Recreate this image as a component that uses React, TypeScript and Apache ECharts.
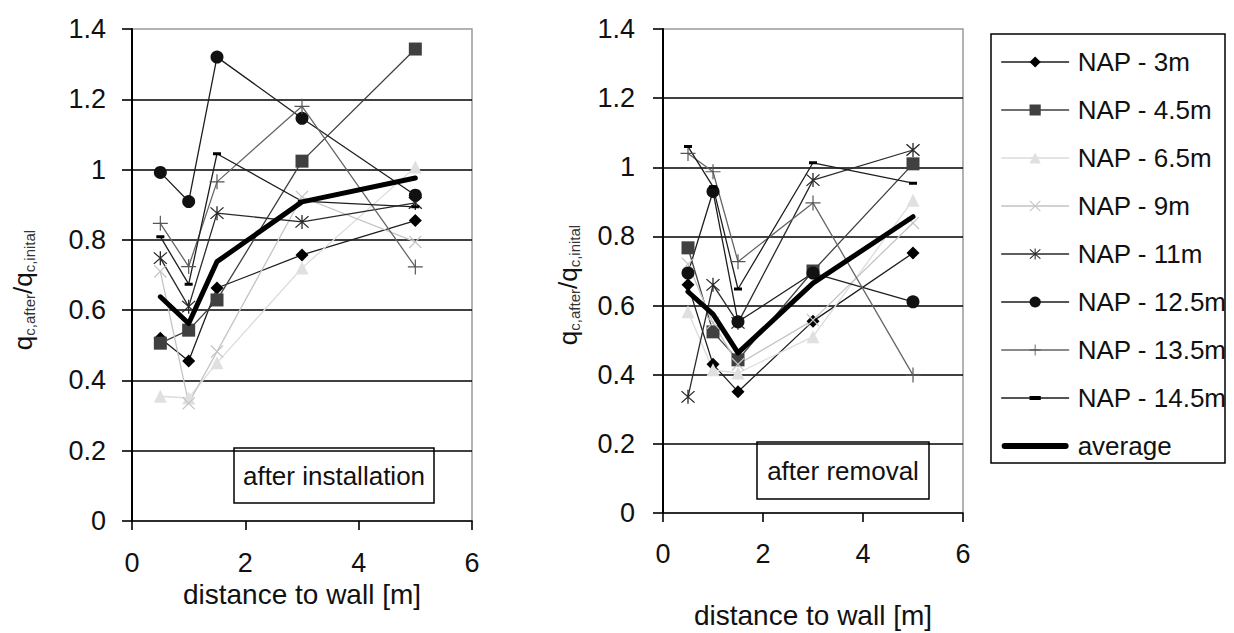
import React, { useEffect, useRef } from "react";
import * as echarts from "echarts";

// distance to wall [m]
const distances = [0.5, 1, 1.5, 3, 5];

const seriesNames = [
  "NAP - 3m",
  "NAP - 4.5m",
  "NAP - 6.5m",
  "NAP - 9m",
  "NAP - 11m",
  "NAP - 12.5m",
  "NAP - 13.5m",
  "NAP - 14.5m",
  "average",
];

// q_c,after / q_c,initial after installation
const inst3 = [0.52, 0.455, 0.663, 0.757, 0.855];
const inst45 = [0.506, 0.543, 0.629, 1.024, 1.343];
const inst65 = [0.355, 0.35, 0.45, 0.72, 1.007];
const inst9 = [0.71, 0.335, 0.482, 0.922, 0.794];
const inst11 = [0.748, 0.61, 0.876, 0.851, 0.905];
const inst125 = [0.992, 0.909, 1.32, 1.146, 0.927];
const inst135 = [0.847, 0.724, 0.965, 1.18, 0.723];
const inst145 = [0.809, 0.674, 1.045, 0.91, 0.894];
const instAvg = [0.638, 0.562, 0.738, 0.908, 0.976];

// q_c,after / q_c,initial after removal
const rem3 = [0.66, 0.43, 0.351, 0.555, 0.752];
const rem45 = [0.767, 0.524, 0.443, 0.7, 1.01];
const rem65 = [0.582, 0.414, 0.405, 0.51, 0.905];
const rem9 = [0.72, 0.55, 0.43, 0.558, 0.839];
const rem11 = [0.336, 0.66, 0.55, 0.963, 1.05];
const rem125 = [0.694, 0.93, 0.553, 0.694, 0.611];
const rem135 = [1.04, 0.987, 0.727, 0.897, 0.399];
const rem145 = [1.06, 0.944, 0.648, 1.013, 0.954];
const remAvg = [0.64, 0.575, 0.463, 0.665, 0.857];

const installation = [inst3, inst45, inst65, inst9, inst11, inst125, inst135, inst145, instAvg];
const removal = [rem3, rem45, rem65, rem9, rem11, rem125, rem135, rem145, remAvg];

const xTicks = { min: 0, max: 6, interval: 2 };
const yTicks = { min: 0, max: 1.4, interval: 0.2 };

const FONT = "'Liberation Sans', Arial, sans-serif";

// marker shapes drawn as filled outlines
const X_MARK = "path://M3.5,2.5L17.5,16.5L16.5,17.5L2.5,3.5Z M16.5,2.5L17.5,3.5L3.5,17.5L2.5,16.5Z";
const STAR_MARK =
  "path://M3.5,2.5L17.5,16.5L16.5,17.5L2.5,3.5Z M16.5,2.5L17.5,3.5L3.5,17.5L2.5,16.5Z M9.3,1.5L10.7,1.5L10.7,18.5L9.3,18.5Z";
const PLUS_MARK = "path://M9.3,1L10.7,1L10.7,19L9.3,19Z M1,9.3L19,9.3L19,10.7L1,10.7Z";
// short flat bar inside a square box, so it keeps its shape at any size
const DASH_MARK = "path://M0,-2.5L0.01,-2.5L0,-2.4Z M0,0L8,0L8,3L0,3Z M8,5.5L7.99,5.5L8,5.4Z";
// thick rounded bar for the average entry of the legend
const AVG_ICON = "path://M3,0L64,0A3,3 0 0 1 64,6L3,6A3,3 0 0 1 3,0Z";

const looks = [
  { symbol: "diamond", size: 13, line: "#1e1e1e", mark: "#000000", width: 1.3 },
  { symbol: "rect", size: 13, line: "#404040", mark: "#404040", width: 1.3 },
  { symbol: "triangle", size: 13, line: "#dcdcdc", mark: "#e0e0e0", width: 1.3 },
  { symbol: X_MARK, size: 13, line: "#c4c4c4", mark: "#c4c4c4", width: 1.3 },
  { symbol: STAR_MARK, size: 14, line: "#2a2a2a", mark: "#2a2a2a", width: 1.3 },
  { symbol: "circle", size: 13, line: "#1e1e1e", mark: "#111111", width: 1.3 },
  { symbol: PLUS_MARK, size: 15, line: "#666666", mark: "#555555", width: 1.3 },
  { symbol: DASH_MARK, size: 8, line: "#1e1e1e", mark: "#000000", width: 1.3 },
  { symbol: "none", size: 0, line: "#000000", mark: "#000000", width: 5 },
];

function buildSeries(values: number[][], axisIndex: number) {
  return values.map((ys, i) => {
    const look = looks[i];
    return {
      type: "line",
      name: seriesNames[i],
      xAxisIndex: axisIndex,
      yAxisIndex: axisIndex,
      data: distances.map((d, k) => [d, ys[k]]),
      symbol: look.symbol,
      symbolSize: look.size,
      showSymbol: look.symbol !== "none",
      lineStyle: { color: look.line, width: look.width, cap: "round", join: "round" },
      itemStyle: { color: look.mark },
      emphasis: { disabled: true },
      z: i === 8 ? 5 : 3,
    };
  });
}

function xAxis(gridIndex: number, nameGap: number, labelMargin: number) {
  return {
    type: "value",
    gridIndex,
    ...xTicks,
    name: "distance to wall [m]",
    nameLocation: "middle",
    nameGap,
    nameTextStyle: { fontFamily: FONT, fontSize: 28, color: "#111" },
    axisLine: { show: true, onZero: false, lineStyle: { color: "#000", width: 1.6 } },
    axisTick: { show: true, length: 9, lineStyle: { color: "#000", width: 1.6 } },
    axisLabel: { fontFamily: FONT, fontSize: 27, color: "#111", margin: labelMargin },
    splitLine: { show: false },
  };
}

function yAxis(gridIndex: number, labelMargin: number) {
  return {
    type: "value",
    gridIndex,
    ...yTicks,
    axisLine: { show: true, onZero: false, lineStyle: { color: "#000", width: 2 } },
    axisTick: { show: true, length: 10, lineStyle: { color: "#000", width: 1.6 } },
    axisLabel: { fontFamily: FONT, fontSize: 27, color: "#111", margin: labelMargin },
    splitLine: { show: true, showMinLine: false, showMaxLine: false, lineStyle: { color: "#000", width: 1.5 } },
  };
}

function yTitle(x: number, y: number) {
  return {
    type: "text",
    x,
    y,
    rotation: Math.PI / 2,
    style: {
      text: "{q|q}{s|c,after}{q|/q}{s|c,inital}",
      align: "center",
      verticalAlign: "middle",
      rich: {
        q: { fontFamily: FONT, fontSize: 26, fill: "#111", lineHeight: 28 },
        s: { fontFamily: FONT, fontSize: 15, fill: "#333", verticalAlign: "bottom", lineHeight: 28 },
      },
    },
  };
}

function noteBox(x: number, y: number, w: number, h: number, text: string) {
  return {
    type: "group",
    z: 20,
    children: [
      { type: "rect", shape: { x, y, width: w, height: h }, style: { fill: "#fff", stroke: "#000", lineWidth: 1.5 } },
      {
        type: "text",
        x: x + w / 2,
        y: y + h / 2,
        style: { text, fontFamily: FONT, fontSize: 26, fill: "#111", align: "center", verticalAlign: "middle" },
      },
    ],
  };
}

export default function App() {
  const ref = useRef<HTMLDivElement>(null);

  useEffect(() => {
    if (!ref.current) return;
    const chart = echarts.init(ref.current, null, { renderer: "svg" });
    chart.setOption({
      animation: false,
      backgroundColor: "#fff",
      grid: [
        { left: 132, right: 762, top: 29, bottom: 112, show: true, borderColor: "#9a9a9a", borderWidth: 1.5, outerBoundsMode: "none" },
        { left: 663, right: 271, top: 29, bottom: 120, show: true, borderColor: "#9a9a9a", borderWidth: 1.5, outerBoundsMode: "none" },
      ],
      xAxis: [xAxis(0, 47, 28), xAxis(1, 88, 27)],
      yAxis: [yAxis(0, 26), yAxis(1, 28)],
      legend: {
        data: seriesNames.map((name) =>
          name === "average" ? { name, icon: AVG_ICON, itemStyle: { color: "#000" } } : { name }
        ),
        orient: "vertical",
        left: 1001,
        top: 49,
        padding: 0,
        itemWidth: 67,
        itemHeight: 14,
        itemGap: 22,
        selectedMode: false,
        symbolKeepAspect: true,
        lineStyle: { width: "inherit" },
        textStyle: { fontFamily: FONT, fontSize: 26, color: "#111", padding: [0, 0, 0, 4] },
      },
      graphic: [
        yTitle(23, 290),
        yTitle(568, 285),
        noteBox(234, 448, 200, 55, "after installation"),
        noteBox(757, 442, 172, 57, "after removal"),
        { type: "rect", z: 50, shape: { x: 1226, y: 28, width: 10, height: 445 }, style: { fill: "#fff" } },
        { type: "rect", z: 60, shape: { x: 991, y: 34, width: 234, height: 429 }, style: { fill: "none", stroke: "#000", lineWidth: 1.5 } },
      ],
      series: [...buildSeries(installation, 0), ...buildSeries(removal, 1)],
    });
    return () => chart.dispose();
  }, []);

  return <div ref={ref} style={{ position: "absolute", left: 0, top: 0, width: 1234, height: 633 }} />;
}
